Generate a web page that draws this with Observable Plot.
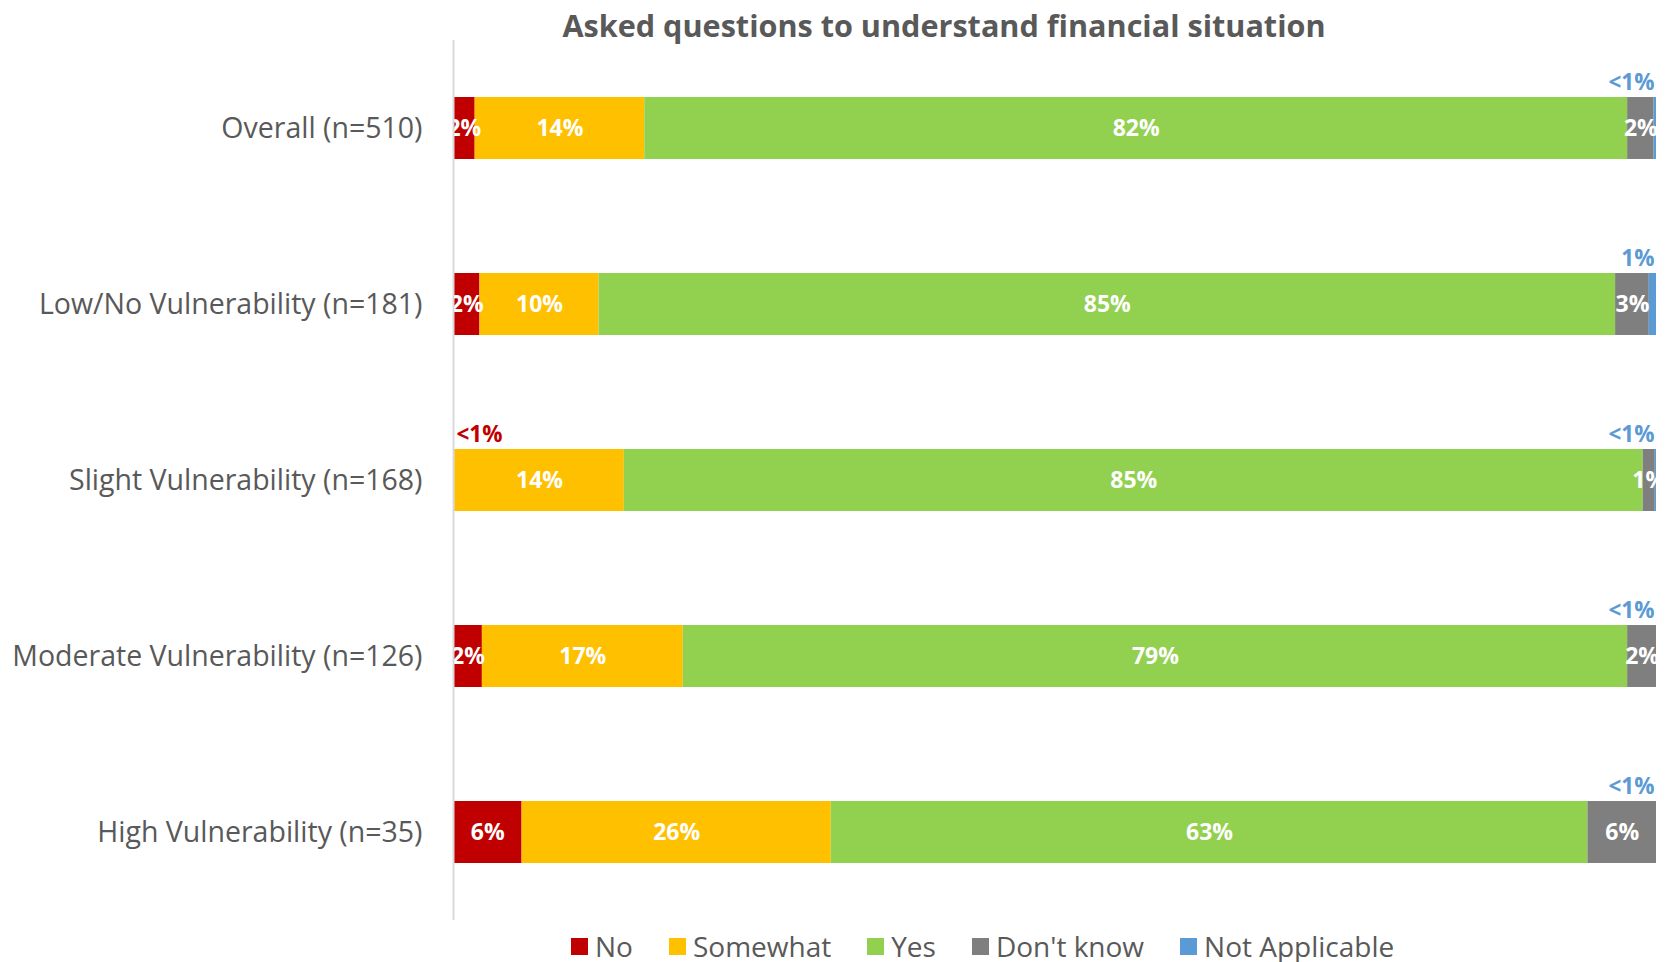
<!DOCTYPE html>
<html>
<head>
<meta charset="utf-8">
<script src="https://cdn.jsdelivr.net/npm/d3@7"></script>
<script src="https://cdn.jsdelivr.net/npm/@observablehq/plot@0.6"></script>
<style>
  html, body { margin: 0; padding: 0; background: #fff; }
  body { width: 1667px; height: 962px; position: relative; font-family: "Open Sans", Lato, sans-serif; color: #595959; }
  #title { position: absolute; left: 221px; top: 0; width: 1446px; height: 40px; line-height: 50px; text-align: center; font-weight: bold; font-size: 30.6px; color: #595959; }
  #chart { position: absolute; left: 0; top: 40px; }
  #legend { position: absolute; left: 571px; top: 926px; height: 40px; display: flex; align-items: center; gap: 36px; font-size: 28px; color: #595959; }
  .item { display: flex; align-items: center; gap: 7px; }
  .sw { width: 17px; height: 17px; display: inline-block; }
</style>
</head>
<body>
<div id="title">Asked questions to understand financial situation</div>
<div id="chart"></div>
<div id="legend"></div>
<script>
const categories = [
  "Overall (n=510)",
  "Low/No Vulnerability (n=181)",
  "Slight Vulnerability (n=168)",
  "Moderate Vulnerability (n=126)",
  "High Vulnerability (n=35)"
];
const seriesNames = ["No", "Somewhat", "Yes", "Don't know", "Not Applicable"];
const seriesColors = ["#c00000", "#ffc000", "#92d050", "#7f7f7f", "#5b9bd5"];

const noVals        = [1.8, 2.2, 0.1, 2.4, 5.7];
const somewhatVals  = [14.1, 9.9, 14.1, 16.7, 25.7];
const yesVals       = [81.7, 84.5, 84.7, 78.5, 62.9];
const dontKnowVals  = [2.2, 2.8, 1.0, 2.4, 5.7];
const notApplVals   = [0.2, 0.6, 0.1, 0.0, 0.0];

const allVals = [noVals, somewhatVals, yesVals, dontKnowVals, notApplVals];
const fmt = v => v < 0.5 ? "<1%" : Math.round(v) + "%";

const rows = [];
seriesNames.forEach((s, si) => {
  categories.forEach((c, ci) => {
    const v = allVals[si][ci];
    rows.push({category: c, series: s, value: v, label: fmt(v)});
  });
});

const insideRows = rows.map(d => ({...d, label: (d.series === "Not Applicable" || (d.series === "No" && d.value < 0.5)) ? "" : d.label}));
const naRows = rows.filter(d => d.series === "Not Applicable");
const noSmallRows = rows.filter(d => d.series === "No" && d.value < 0.5);

const chart = Plot.plot({
  width: 1667,
  height: 880,
  marginLeft: 453,
  marginRight: 11,
  marginTop: 0,
  marginBottom: 0,
  style: {fontFamily: "'Open Sans', Lato, sans-serif", color: "#595959", background: "transparent"},
  x: {domain: [0, 100], axis: null},
  y: {domain: categories, paddingInner: 0.648, paddingOuter: 0.324, axis: null},
  color: {domain: seriesNames, range: seriesColors},
  marks: [
    Plot.barX(rows, Plot.stackX({x: "value", y: "category", fill: "series", order: null})),
    Plot.text(insideRows, Plot.stackX({x: "value", y: "category", text: "label", order: null, fill: "white", fontWeight: "bold", fontSize: 23})),
    Plot.text(naRows, {x: 100, y: "category", text: "label", textAnchor: "end", dx: -2, dy: -46, fill: "#5b9bd5", fontWeight: "bold", fontSize: 22.5}),
    Plot.text(noSmallRows, {x: 0, y: "category", text: "label", textAnchor: "start", dx: 3, dy: -46, fill: "#c00000", fontWeight: "bold", fontSize: 22.5}),
    Plot.ruleX([0], {stroke: "#d9d9d9", strokeWidth: 2}),
    Plot.axisY({tickSize: 0, tickPadding: 31, fontSize: 28.5, fill: "#595959", label: null})
  ]
});
document.getElementById("chart").appendChild(chart);

const legend = document.getElementById("legend");
seriesNames.forEach((s, i) => {
  const it = document.createElement("div");
  it.className = "item";
  const sw = document.createElement("span");
  sw.className = "sw";
  sw.style.background = seriesColors[i];
  const tx = document.createElement("span");
  tx.textContent = s;
  it.appendChild(sw);
  it.appendChild(tx);
  legend.appendChild(it);
});
</script>
</body>
</html>
